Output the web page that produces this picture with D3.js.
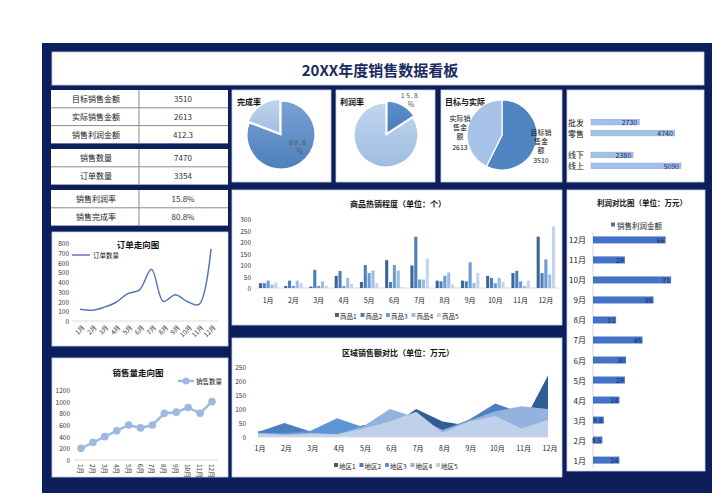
<!DOCTYPE html>
<html><head><meta charset="utf-8">
<script src="https://cdn.jsdelivr.net/npm/d3@7"></script>
<style>
body{margin:0;background:#fff;}
text{font-family:"Noto Sans CJK SC","Noto Sans",sans-serif;}
</style>
</head><body>
<svg id="c" width="722" height="500"></svg>
<script>
// ---------------- DATA ----------------
const dashboardTitle = "20XX年度销售数据看板";
const months = ["1月","2月","3月","4月","5月","6月","7月","8月","9月","10月","11月","12月"];
const kpiLabels = ["目标销售金额","实际销售金额","销售利润金额","销售数量","订单数量","销售利润率","销售完成率"];
const kpiValues = ["3510","2613","412.3","7470","3354","15.8%","80.8%"];
const kpiGroups = [[0,1,2],[3,4],[5,6]];

const completionRate = [80.8, 19.2];
const profitRate = [15.8, 84.2];
const targetActualNames = ["目标销售金额","实际销售金额"];
const targetActualValues = [3510, 2613];

const channelCats = ["批发","零售","","线下","线上"];
const channelValues = [2730, 4740, 0, 2380, 5090];

const orderCounts = [120, 110, 140, 190, 280, 320, 530, 200, 270, 200, 170, 740];
const orderTicks = [0,100,200,300,400,500,600,700,800];

const salesQty = [200, 300, 400, 500, 600, 550, 600, 800, 820, 900, 800, 1000];
const salesTicks = [0,200,400,600,800,1000,1200];

const productNames = ["商品1","商品2","商品3","商品4","商品5"];
const product1 = [21, 9, 6, 53, 26, 121, 98, 32, 32, 53, 65, 223];
const product2 = [21, 32, 79, 74, 100, 26, 223, 29, 29, 44, 75, 65];
const product3 = [32, 9, 9, 9, 65, 100, 37, 53, 112, 21, 29, 124];
const product4 = [15, 32, 29, 44, 76, 76, 37, 68, 22, 44, 9, 59];
const product5 = [24, 21, 9, 18, 21, 3, 128, 15, 65, 26, 32, 268];
const productTicks = [0,50,100,150,200,250,300];

const regionNames = ["地区1","地区2","地区3","地区4","地区5"];
const region1 = [20, 22, 15, 15, 42, 35, 100, 55, 40, 60, 40, 220];
const region2 = [18, 50, 20, 20, 30, 40, 70, 25, 62, 120, 85, 95];
const region3 = [15, 15, 22, 67, 35, 45, 60, 20, 45, 50, 70, 80];
const region4 = [15, 10, 15, 10, 38, 100, 70, 25, 58, 92, 110, 100];
const region5 = [12, 8, 12, 10, 30, 55, 90, 15, 55, 75, 30, 62];
const regionTicks = [0,50,100,150,200,250];

const profitByMonth = [24, 8.5, 9.8, 24, 29, 30, 45, 21, 55, 71, 29, 66];
const profitLabels = ["24","8.5","9.8","24","29","30","45","21","55","71","29","66"];

// ---------------- DRAW ----------------
const NAVY = "#0c1f5b";
const svg = d3.select("#c");
svg.append("rect").attr("x",42).attr("y",43).attr("width",670).attr("height",450).attr("fill",NAVY);

function panel(x,y,w,h){
  svg.append("rect").attr("x",x).attr("y",y).attr("width",w).attr("height",h)
    .attr("fill","#fff").attr("stroke","#c9d2e3").attr("stroke-width",0.8);
}
function txt(x,y,s,size,opts={}){
  return svg.append("text").attr("x",x).attr("y",y).text(s)
    .attr("font-size",size)
    .attr("text-anchor",opts.anchor||"start")
    .attr("dominant-baseline","central")
    .attr("font-weight",opts.bold?"bold":"normal")
    .attr("fill",opts.fill||"#222");
}

// title
panel(52,52,652,33);
txt(380,69,dashboardTitle,15,{anchor:"middle",bold:true,fill:"#1a2a5e"});

// KPI table
const groupTop = [90,149,190];
const rowH = 17.8;
kpiGroups.forEach((g,gi)=>{
  const y0 = groupTop[gi];
  svg.append("rect").attr("x",51).attr("y",y0).attr("width",177).attr("height",rowH*g.length).attr("fill","#fff");
  g.forEach((k,ri)=>{
    const y = y0 + ri*rowH;
    if(ri>0) svg.append("line").attr("x1",51).attr("x2",228).attr("y1",y).attr("y2",y).attr("stroke","#8a8a8a").attr("stroke-width",1);
    txt(96,y+rowH/2,kpiLabels[k],8,{anchor:"middle"});
    txt(183,y+rowH/2,kpiValues[k],8,{anchor:"middle",fill:"#333"});
  });
  svg.append("line").attr("x1",139).attr("x2",139).attr("y1",y0).attr("y2",y0+rowH*g.length).attr("stroke","#8a8a8a").attr("stroke-width",1);
});

// gradients
const defs = svg.append("defs");
function grad(id,c1,c2){
  const g = defs.append("linearGradient").attr("id",id).attr("x1",0).attr("y1",0).attr("x2",0).attr("y2",1);
  g.append("stop").attr("offset","0%").attr("stop-color",c1);
  g.append("stop").attr("offset","100%").attr("stop-color",c2);
}
grad("gDark","#7aa2d4","#4d7fbb");
grad("gLight","#c2d5ee","#9fbde2");
grad("gMid","#5d90c9","#4a7db8");

function drawPie(cx,cy,r,values,fills,explode){
  const arcs = d3.pie().sort(null).value(d=>d)(values);
  const arc = d3.arc().innerRadius(0).outerRadius(r);
  arcs.forEach((a,i)=>{
    const mid = (a.startAngle+a.endAngle)/2;
    const off = explode[i]||0;
    const dx = Math.sin(mid)*off, dy = -Math.cos(mid)*off;
    svg.append("path").attr("d",arc(a)).attr("transform",`translate(${cx+dx},${cy+dy})`)
      .attr("fill",fills[i]).attr("stroke","#fff").attr("stroke-width",1.2);
  });
}

// pie 1
panel(232,90,99,92);
txt(237,101,"完成率",8,{bold:true,fill:"#111"});
drawPie(281,135,34,completionRate,["url(#gDark)","url(#gLight)"],[0,2]);
txt(298,142,"80.8",7,{anchor:"middle",fill:"#555"}).attr("letter-spacing",1.2);
txt(300,151,"%",7,{anchor:"middle",fill:"#555"});

// pie 2
panel(336,90,99,92);
txt(340,101,"利润率",8,{bold:true,fill:"#111"});
drawPie(386,135,32,profitRate,["url(#gMid)","url(#gLight)"],[2,0]);
txt(410,95,"15.8",7,{anchor:"middle",fill:"#555"}).attr("letter-spacing",1.2);
txt(411,104,"%",7,{anchor:"middle",fill:"#555"});

// pie 3
panel(441,90,121,92);
txt(445,101,"目标与实际",8,{bold:true,fill:"#111"});
drawPie(502,135,35,targetActualValues,["#4f86c2","#a6c2e6"],[0,0]);
[["实际销",118],["售金",127],["额",136],[String(targetActualValues[1]),147]].forEach(([s,y])=>txt(460,y,s,7,{anchor:"middle",fill:"#111"}));
[["目标销",132],["售金",141],["额",150],[String(targetActualValues[0]),160]].forEach(([s,y])=>txt(541,y,s,7,{anchor:"middle",fill:"#111"}));

// channel bars
panel(567,90,137,92);
{
  const y = d3.scaleBand().domain(channelCats).range([114,174]).padding(0.48);
  const x = d3.scaleLinear().domain([0,5090]).range([591,681]);
  channelCats.forEach((c,i)=>{
    if(!c) return;
    svg.append("rect").attr("x",x(0)).attr("y",y(c)).attr("width",x(channelValues[i])-x(0)).attr("height",y.bandwidth())
      .attr("fill","#a3c0e6").attr("stroke","#86a6d4").attr("stroke-width",0.5);
    txt(x(channelValues[i])-2,y(c)+y.bandwidth()/2,String(channelValues[i]),7,{anchor:"end",fill:"#1a2a5e"});
    txt(568,y(c)+y.bandwidth()/2,c,8,{fill:"#111"});
  });
}

// order trend
panel(52,232,176,114);
{
  const x = d3.scalePoint().domain(months).range([80,211]);
  const y = d3.scaleLinear().domain([0,800]).range([321,243]);
  txt(138,244,"订单走向图",8.5,{anchor:"middle",bold:true,fill:"#111"});
  svg.append("line").attr("x1",72).attr("x2",90).attr("y1",255).attr("y2",255).attr("stroke","#5877b8").attr("stroke-width",1.5);
  txt(93,255,"订单数量",6.5,{fill:"#111"});
  orderTicks.forEach(t=>txt(69,y(t),String(t),6.5,{anchor:"end",fill:"#333"}));
  svg.append("line").attr("x1",72).attr("x2",218).attr("y1",y(0)).attr("y2",y(0)).attr("stroke","#d9d9d9");
  svg.append("path").datum(orderCounts)
    .attr("d",d3.line().x((d,i)=>x(months[i])).y(d=>y(d)).curve(d3.curveCatmullRom.alpha(0.5)))
    .attr("fill","none").attr("stroke","#5877b8").attr("stroke-width",1.5);
  months.forEach(m=>{
    svg.append("text").attr("transform",`translate(${x(m)+3},${y(0)+5}) rotate(-45)`)
      .attr("text-anchor","end").attr("dominant-baseline","central").attr("font-size",6.5).attr("fill","#333").text(m);
  });
}

// sales trend
panel(52,358,176,119);
{
  const x = d3.scalePoint().domain(months).range([81,212]);
  const y = d3.scaleLinear().domain([0,1200]).range([460,390]);
  txt(138,372,"销售量走向图",8.5,{anchor:"middle",bold:true,fill:"#111"});
  svg.append("line").attr("x1",178).attr("x2",194).attr("y1",381).attr("y2",381).attr("stroke","#9bb9e1").attr("stroke-width",2.5);
  svg.append("circle").attr("cx",186).attr("cy",381).attr("r",3.5).attr("fill","#9bb9e1");
  txt(196,381,"销售数量",6.5,{fill:"#111"});
  salesTicks.forEach(t=>txt(70,y(t),String(t),6.5,{anchor:"end",fill:"#333"}));
  svg.append("line").attr("x1",74).attr("x2",218).attr("y1",y(0)).attr("y2",y(0)).attr("stroke","#d9d9d9");
  svg.append("path").datum(salesQty)
    .attr("d",d3.line().x((d,i)=>x(months[i])).y(d=>y(d)))
    .attr("fill","none").attr("stroke","#9bb9e1").attr("stroke-width",2.5);
  salesQty.forEach((d,i)=>svg.append("circle").attr("cx",x(months[i])).attr("cy",y(d)).attr("r",3.8).attr("fill","#9bb9e1"));
  months.forEach(m=>{
    svg.append("text").attr("transform",`translate(${x(m)},${y(0)+4}) rotate(90)`)
      .attr("text-anchor","start").attr("dominant-baseline","central").attr("font-size",6.5).attr("fill","#333").text(m);
  });
}

// product bar chart
panel(232,190,330,135);
{
  const series = [product1,product2,product3,product4,product5];
  const colors = ["#3c6496","#4a7fbf","#6b9bd2","#9dbce2","#c3d4ec"];
  const x = d3.scaleBand().domain(months).range([255.5,558.5]).paddingInner(0.27).paddingOuter(0.135);
  const xs = d3.scaleBand().domain(d3.range(5)).range([0,x.bandwidth()]).paddingInner(0.2);
  const y = d3.scaleLinear().domain([0,300]).range([288,219]);
  txt(398,203,"商品热销程度（单位：个）",8,{anchor:"middle",bold:true,fill:"#111"});
  productTicks.forEach(t=>txt(251,y(t),String(t),6.5,{anchor:"end",fill:"#333"}));
  svg.append("line").attr("x1",256).attr("x2",559).attr("y1",y(0)).attr("y2",y(0)).attr("stroke","#d9d9d9");
  series.forEach((s,si)=>{
    s.forEach((v,i)=>{
      svg.append("rect").attr("x",x(months[i])+xs(si)).attr("y",y(v)).attr("width",xs.bandwidth()).attr("height",y(0)-y(v)).attr("fill",colors[si]);
    });
  });
  months.forEach(m=>txt(x(m)+x.bandwidth()/2,300,m,7,{anchor:"middle",fill:"#222"}));
  productNames.forEach((n,i)=>{
    const lx = 335 + i*25.5;
    svg.append("rect").attr("x",lx).attr("y",313).attr("width",4).attr("height",4).attr("fill",colors[i]);
    txt(lx+5,315.5,n,6.5,{fill:"#222"});
  });
}

// region area chart
panel(232,338,330,139);
{
  const series = [region1,region2,region3,region4,region5];
  const colors = ["#2f5d94","#4a7fc0","#5e95d3","#93b3de","#bfd0ea"];
  const x = d3.scalePoint().domain(months).range([258,548]);
  const y = d3.scaleLinear().domain([0,250]).range([437,367]);
  txt(398,352,"区域销售额对比（单位：万元）",8,{anchor:"middle",bold:true,fill:"#111"});
  regionTicks.forEach(t=>txt(246,y(t),String(t),6.5,{anchor:"end",fill:"#333"}));
  const area = d3.area().x((d,i)=>x(months[i])).y0(y(0)).y1(d=>y(d));
  series.forEach((s,si)=>svg.append("path").datum(s).attr("d",area).attr("fill",colors[si]));
  svg.append("line").attr("x1",258).attr("x2",548).attr("y1",y(0)).attr("y2",y(0)).attr("stroke","#d9d9d9");
  months.forEach(m=>txt(x(m)+2,448,m,7,{anchor:"middle",fill:"#222"}));
  regionNames.forEach((n,i)=>{
    const lx = 334 + i*25.5;
    svg.append("rect").attr("x",lx).attr("y",463).attr("width",4).attr("height",4).attr("fill",colors[i]);
    txt(lx+5,465.5,n,6.5,{fill:"#222"});
  });
}

// profit bars
panel(567,190,138,281);
{
  const y = d3.scaleBand().domain(months.slice().reverse()).range([230,470]).paddingInner(0.65).paddingOuter(0.32);
  const x = d3.scaleLinear().domain([0,80]).range([593,681]);
  txt(642,202,"利润对比图（单位：万元）",7.5,{anchor:"middle",bold:true,fill:"#111"});
  svg.append("rect").attr("x",611).attr("y",222.5).attr("width",4).attr("height",4).attr("fill","#4472c4");
  txt(617,225,"销售利润金额",7.5,{fill:"#222"});
  svg.append("line").attr("x1",593).attr("x2",593).attr("y1",232).attr("y2",468).attr("stroke","#d9d9d9");
  months.forEach((m,i)=>{
    const v = profitByMonth[i];
    svg.append("rect").attr("x",x(0)).attr("y",y(m)).attr("width",x(v)-x(0)).attr("height",y.bandwidth()).attr("fill","#4472c4");
    txt(x(v)-1,y(m)+y.bandwidth()/2,profitLabels[i],7,{anchor:"end",fill:"#1a2a5e"});
    txt(586,y(m)+y.bandwidth()/2,m,8,{anchor:"end",fill:"#222"});
  });
}
</script>
</body></html>
